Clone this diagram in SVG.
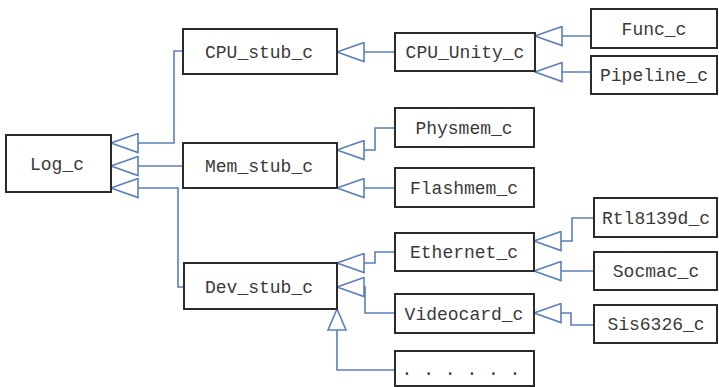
<svg xmlns="http://www.w3.org/2000/svg" width="719" height="387" viewBox="0 0 719 387">
<style>
.box rect{fill:#fff;stroke:#2b2b2b;stroke-width:2}
.box text{font-family:"Liberation Mono","DejaVu Sans Mono",monospace;font-size:18px;fill:#3a3a3a;text-anchor:middle}
.conn path{fill:none;stroke:#5b7fbb;stroke-width:1.6}
</style>
<defs>
<marker id="inh" viewBox="0 0 29 21" refX="28" refY="10.5" markerWidth="29" markerHeight="21" markerUnits="userSpaceOnUse" orient="auto">
<path d="M28,10.5 L1,1 L1,20 Z" fill="#fff" stroke="#5b7fbb" stroke-width="1.6"/>
</marker>
<marker id="inhS" viewBox="0 0 23 21" refX="22" refY="10.5" markerWidth="23" markerHeight="21" markerUnits="userSpaceOnUse" orient="auto">
<path d="M22,10.5 L1,1.5 L1,19.5 Z" fill="#fff" stroke="#5b7fbb" stroke-width="1.6"/>
</marker>
</defs>
<rect width="719" height="387" fill="#fff"/>
<g id="connectors" class="conn">
<path d="M183,51 H174 V143 H111" marker-end="url(#inh)"/>
<path d="M183,166 H111" marker-end="url(#inh)"/>
<path d="M184,287 H178 V188 H111" marker-end="url(#inh)"/>
<path d="M395,52 H337" marker-end="url(#inh)"/>
<path d="M591,36 H535" marker-end="url(#inh)"/>
<path d="M591,72 H535" marker-end="url(#inh)"/>
<path d="M395,128 H375 V150 H337" marker-end="url(#inh)"/>
<path d="M395,188 H337" marker-end="url(#inh)"/>
<path d="M395,252 H375 V263 H337" marker-end="url(#inh)"/>
<path d="M395,313 H365 V287 H337" marker-end="url(#inh)"/>
<path d="M395,370 H337 V309" marker-end="url(#inhS)"/>
<path d="M594,218 H572 V241 H534" marker-end="url(#inh)"/>
<path d="M594,271 H534" marker-end="url(#inh)"/>
<path d="M594,325 H571 V313 H534" marker-end="url(#inh)"/>
</g>
<g id="log_c" class="box"><rect x="6" y="135" width="105" height="57"/><text x="57" y="170">Log_c</text></g>
<g id="cpu_stub_c" class="box"><rect x="183" y="29" width="154" height="45"/><text x="259" y="58">CPU_stub_c</text></g>
<g id="mem_stub_c" class="box"><rect x="183" y="143" width="154" height="45"/><text x="259" y="172">Mem_stub_c</text></g>
<g id="dev_stub_c" class="box"><rect x="184" y="263" width="153" height="46"/><text x="259" y="293">Dev_stub_c</text></g>
<g id="cpu_unity_c" class="box"><rect x="395" y="33" width="140" height="38"/><text x="465" y="58">CPU_Unity_c</text></g>
<g id="physmem_c" class="box"><rect x="395" y="108" width="139" height="39"/><text x="464" y="134">Physmem_c</text></g>
<g id="flashmem_c" class="box"><rect x="395" y="168" width="139" height="39"/><text x="464" y="194">Flashmem_c</text></g>
<g id="ethernet_c" class="box"><rect x="395" y="233" width="139" height="38"/><text x="464" y="258">Ethernet_c</text></g>
<g id="videocard_c" class="box"><rect x="395" y="294" width="139" height="39"/><text x="464" y="320">Videocard_c</text></g>
<g id="more" class="box"><rect x="395" y="351" width="139" height="35"/><text x="461" y="375">. . . . . .</text></g>
<g id="func_c" class="box"><rect x="591" y="9" width="126" height="39"/><text x="654" y="35">Func_c</text></g>
<g id="pipeline_c" class="box"><rect x="591" y="56" width="126" height="38"/><text x="654" y="81">Pipeline_c</text></g>
<g id="rtl8139d_c" class="box"><rect x="594" y="198" width="123" height="39"/><text x="656" y="224">Rtl8139d_c</text></g>
<g id="socmac_c" class="box"><rect x="594" y="252" width="123" height="38"/><text x="656" y="277">Socmac_c</text></g>
<g id="sis6326_c" class="box"><rect x="594" y="305" width="123" height="38"/><text x="656" y="330">Sis6326_c</text></g>
</svg>
